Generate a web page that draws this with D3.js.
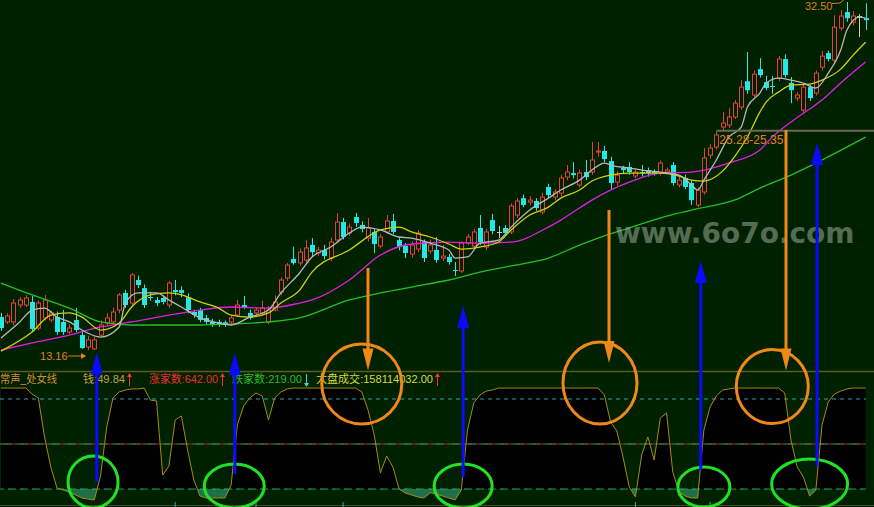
<!DOCTYPE html>
<html><head><meta charset="utf-8">
<script src="https://cdn.jsdelivr.net/npm/d3@7"></script>
<style>html,body{margin:0;padding:0;background:#002000;overflow:hidden}</style>
</head><body><svg id="c" width="874" height="507"></svg>
<script>
// ---------- DATA ----------
const openP = [14.99,14.72,14.72,15.66,15.66,15.83,14.38,14.94,14.83,14.99,14.72,14.16,14.83,13.99,13.33,13.22,13.99,14.66,14.72,15.38,
16.33,15.77,17.05,16.60,16.10,15.94,16.05,15.66,16.49,16.49,16.10,15.27,15.38,14.94,14.72,14.72,14.70,14.72,15.10,15.66,
15.22,15.22,15.22,14.72,15.38,16.38,17.16,18.22,18.00,18.16,19.00,18.55,18.72,18.27,19.27,20.27,19.66,20.55,20.11,19.38,
19.72,18.94,19.72,20.33,19.27,18.94,18.49,18.77,19.16,18.66,18.72,18.27,18.33,17.62,17.55,19.10,18.94,19.94,18.88,20.38,
19.72,19.94,19.72,20.66,21.60,21.38,21.44,20.83,22.22,21.66,21.88,22.77,22.99,22.33,23.05,23.05,24.16,24.22,23.66,22.49,
23.27,23.33,22.83,23.05,23.16,23.05,22.99,23.05,23.44,22.33,22.72,22.44,21.22,21.94,23.99,24.44,25.55,25.66,26.11,26.66,
28.10,27.33,28.77,28.05,27.83,28.27,29.33,28.00,27.16,26.49,27.77,27.44,28.88,29.66,29.27,31.05,31.94,31.38,31.72,31.60];
const highP = [15.22,15.20,15.99,16.10,16.20,16.16,15.90,16.22,15.35,15.30,15.38,14.60,15.50,14.20,13.95,13.90,14.80,15.20,15.50,16.33,
16.50,17.44,17.30,16.80,16.40,16.10,16.20,17.00,17.05,16.70,16.30,15.40,15.50,15.10,14.90,14.85,14.80,15.10,15.94,16.16,
15.40,15.55,15.90,15.60,16.20,17.20,18.00,18.90,18.80,19.27,19.38,18.90,19.00,19.40,20.77,20.50,20.20,20.77,20.30,20.49,
19.90,19.60,20.66,20.72,19.40,19.10,19.20,19.83,19.30,19.30,19.44,19.00,18.50,18.05,19.20,19.60,19.90,20.66,19.90,20.72,
20.05,20.10,21.30,21.60,21.80,21.70,21.60,21.90,22.40,22.10,22.90,23.44,23.60,23.20,23.72,24.72,24.72,24.50,23.90,23.10,
23.40,23.60,23.20,23.44,23.30,23.20,23.70,23.30,23.60,22.80,22.90,22.60,22.20,24.38,24.61,25.30,26.38,26.60,27.05,28.16,
29.72,28.70,29.38,28.40,28.38,29.50,29.60,28.33,27.50,27.90,27.90,28.70,29.77,29.80,31.77,32.05,32.50,32.00,31.83,32.43];
const lowP = [14.22,14.60,14.55,15.50,15.55,14.20,14.25,14.80,14.70,14.00,14.00,14.05,14.15,13.22,13.16,13.18,13.90,14.50,14.60,15.20,
15.50,15.60,16.60,15.50,15.90,15.60,15.70,15.50,16.20,16.10,15.20,14.95,14.70,14.60,14.45,14.45,14.45,14.60,15.00,15.45,
14.85,15.10,15.10,14.60,15.30,16.20,17.00,17.90,17.85,18.00,18.40,18.40,18.20,18.10,19.10,19.30,19.50,20.00,19.70,19.20,
18.55,18.80,19.60,19.60,18.70,18.27,18.30,18.60,18.05,18.50,18.00,18.10,17.90,17.27,17.45,19.00,18.80,19.00,18.70,19.60,
19.38,19.50,19.60,20.50,21.10,21.20,20.90,20.70,21.60,21.50,21.70,22.60,22.70,22.20,22.60,22.90,23.90,23.60,22.05,22.30,
23.00,22.90,22.70,22.80,22.80,22.85,22.85,22.95,22.30,22.20,22.10,21.22,21.10,21.80,23.80,24.30,25.35,25.50,26.00,26.50,
27.40,27.20,28.30,27.60,27.38,28.10,28.30,26.88,27.00,26.35,27.00,27.30,28.70,29.20,29.10,30.90,31.40,31.20,30.55,30.94];
const closeP = [14.38,15.05,15.77,15.94,16.05,14.33,15.77,15.94,15.22,14.16,14.16,14.38,14.27,13.27,13.72,13.72,14.55,14.94,15.27,16.22,
15.66,17.33,16.77,15.66,16.05,15.77,15.83,16.88,16.38,16.33,15.38,15.10,14.83,14.72,14.55,14.55,14.55,14.94,15.66,15.55,
14.94,15.38,15.49,15.38,15.83,17.05,17.88,18.00,18.60,18.83,18.60,18.72,18.38,19.16,20.27,19.44,19.99,20.22,19.88,19.94,
19.05,19.44,20.33,19.72,18.88,18.55,18.99,19.66,18.27,18.99,18.16,18.38,18.05,17.60,19.10,19.44,19.72,19.16,19.72,19.77,
19.72,19.66,21.16,21.44,21.22,21.49,21.05,21.66,21.77,21.94,22.72,23.05,22.88,22.99,22.77,23.72,24.22,23.77,22.44,22.88,
23.16,23.05,23.05,22.99,22.99,22.99,23.55,23.16,22.44,22.60,22.22,21.49,22.05,23.83,24.38,25.11,25.77,26.11,26.88,27.77,
27.60,28.49,28.44,27.72,27.82,29.33,28.44,27.60,27.33,27.77,27.16,28.55,29.49,29.33,31.10,31.72,31.60,31.72,31.72,31.49];

// moving averages: [candle index, value]
const ma5 = [[0,13.83],[3,14.72],[5,15.38],[7,15.49],[9,14.99],[11,14.72],[13,14.27],[16,13.88],[19,14.44],[20,15.77],[22,16.33],[25,16.33],
[27,15.94],[29,15.55],[32,14.94],[35,14.66],[37,14.55],[40,14.99],[43,15.38],[45,16.33],[48,17.44],[50,18.33],[53,18.88],[56,19.66],
[58,19.99],[61,19.83],[64,19.44],[66,19.38],[69,19.10],[72,18.72],[73,18.27],[75,18.33],[77,19.10],[80,19.27],[82,19.99],[85,20.94],
[88,21.60],[90,22.05],[93,22.60],[95,23.16],[97,23.55],[98,23.44],[101,23.27],[103,23.16],[106,23.05],[109,22.88],[111,22.33],
[112,22.05],[113,22.60],[115,23.72],[117,24.99],[119,25.55],[120,26.66],[122,27.44],[123,27.99],[125,28.27],[127,28.16],[129,27.99],
[131,27.72],[133,28.55],[135,29.83],[136,30.94],[138,31.66],[139,31.60]];
const ma10 = [[0,13.10],[5,14.16],[8,15.10],[11,15.22],[13,14.99],[16,14.27],[19,14.66],[21,15.55],[24,16.22],[27,16.33],[29,16.22],
[32,15.83],[35,15.49],[37,15.10],[40,14.99],[43,15.22],[45,15.77],[48,16.49],[50,17.49],[56,18.72],[61,19.83],[64,19.99],[66,19.72],
[69,19.44],[72,19.05],[74,18.77],[77,18.88],[80,19.16],[82,19.83],[85,20.66],[88,21.10],[90,21.60],[93,22.05],[95,22.55],[98,22.88],
[101,22.99],[106,22.99],[109,22.83],[111,22.60],[113,22.55],[116,23.10],[118,23.94],[120,25.00],[122,26.38],[123,26.94],[125,27.49],
[127,27.88],[130,27.94],[132,28.16],[135,28.77],[137,29.55],[139,30.27]];
const ma20 = [[0,13.16],[5,13.55],[11,13.99],[16,14.44],[21,14.72],[27,15.10],[32,15.38],[37,15.55],[43,15.49],[48,15.77],[50,15.94],
[56,17.05],[61,18.44],[66,19.05],[72,19.16],[77,19.10],[82,19.16],[88,19.99],[90,20.38],[93,21.05],[95,21.49],[101,22.49],[106,22.99],
[111,23.05],[117,23.55],[122,24.27],[124,24.99],[127,25.83],[130,26.55],[132,27.05],[135,28.00],[139,29.16]];
const ma60 = [[0,16.88],[5,16.22],[11,15.49],[16,14.72],[21,14.55],[27,14.55],[32,14.55],[37,14.60],[43,14.72],[48,14.94],[56,15.94],
[61,16.33],[66,16.66],[72,17.05],[77,17.49],[82,17.83],[88,18.27],[93,18.99],[96,19.38],[101,19.94],[107,20.60],[111,20.94],
[118,21.50],[122,22.16],[127,22.88],[132,23.72],[139,24.99]];

// lower indicator (one value per candle)
const osc = [87.3,87.3,87.3,87.3,87.3,83.3,80.7,54.7,34.7,20.7,19.3,18,16,14,13.3,12.7,28.7,61.3,80.7,84.7,
86,86.7,86.7,87.3,79.3,78.7,29.3,35.3,66,68.7,46,26,15.3,14,14,14,14,22.7,62.7,75.3,
80.7,84,82,66,80.7,84.7,86.7,87.3,87.3,87.3,87.3,87.3,87.3,87.3,87.3,87.3,87.3,87.3,84.7,72.7,
56,30.7,42,34.7,20,17.3,16,14.7,14,17.5,16.7,15.3,14,12.7,19.3,59.3,77.3,82.7,85.3,86,
87.3,87.3,87.3,87.3,87.3,87.3,87.3,87.3,87.3,87.3,87.3,87.3,87.3,87.3,87.3,87.3,87.3,82.7,64.7,58.7,
41.3,21.3,14.7,42.7,54.7,39.3,67.3,70.7,31.3,18,15.3,14,14,59.3,74.7,82,86,86.7,87.3,87.3,
87.3,87.3,87.3,87.3,87.3,87.3,84,52.7,34.7,28,15.3,19.3,62.7,78,83.3,85.3,86.7,87.3,87.3,87.3];
const oscLevels = [80, 50, 20];
const dateTicks = [28, 41, 55, 102, 114];

const panelLabels = [
  {t:"常声_处女线", x:0, c:"#d09030", w:57},
  {t:"钱:49.84", x:83, c:"#c0a040", w:42, arrow:"up", ac:"#ff3030"},
  {t:"涨家数:642.00", x:149, c:"#e83030", w:69, arrow:"up", ac:"#ff3030"},
  {t:"跌家数:219.00", x:232, c:"#30b830", w:70, arrow:"down", ac:"#20e0e0"},
  {t:"大盘成交:158114032.00", x:316, c:"#d8d840", w:117, arrow:"up", ac:"#ff3030"}
];
const lowLabel = "13.16", highLabel = "32.50", gapLabel = "25.28-25.35", gapLevel = 25.35, gapStart = 115;
const watermark = "www.6o7o.com";

// annotations: index position, tail/tip in price or indicator units
const blueArrows = [{i:15.4, from:24.7, to:13.04},{i:37.6, from:30, to:13.0},{i:74.3, from:28, to:15.6},
                    {i:112.5, from:32.7, to:18.1},{i:131.2, from:35.3, to:24.66}];
const orangeArrows = [{i:59, from:17.72, to:99},{i:97.75, from:20.94, to:104},{i:126.2, from:25.38, to:99}];
const orangeRings = [{i:58, v:90, rx:40, ry:40},{i:96.3, v:90.7, rx:37, ry:41},{i:124, v:88.3, rx:36, ry:37}];
const greenRings = [{i:14.8, v:24.7, rx:25, ry:26},{i:37.5, v:22, rx:30, ry:22},{i:74.3, v:22, rx:29, ry:22},
                    {i:113, v:21.3, rx:26, ry:20},{i:130, v:23.3, rx:38, ry:25}];

// ---------- DRAW ----------
const svg = d3.select("#c");
const W = 874, H = 507;
const x = d3.scaleLinear().domain([0, 139]).range([1, 865.6]);
const y = d3.scaleLinear().domain([13.16, 32.50]).range([350, 2]);
const oy = d3.scaleLinear().domain([0, 100]).range([519, 369]);
const BG = "#002100";
const RED = "#e8403c", CYAN = "#22e8e8";

svg.append("rect").attr("width", W).attr("height", H).attr("fill", BG);
const defs = svg.append("defs");
defs.append("clipPath").attr("id","pc").append("rect").attr("x",0).attr("y",0).attr("width",W).attr("height",370);
defs.append("clipPath").attr("id","above").append("rect").attr("x",0).attr("y",369).attr("width",867).attr("height",oy(20)-369);
defs.append("clipPath").attr("id","below").append("rect").attr("x",0).attr("y",oy(20)).attr("width",867).attr("height",40);

const price = svg.append("g").attr("clip-path","url(#pc)");

// candles
const data = openP.map((o,i)=>({i, o, h:highP[i], l:lowP[i], c:closeP[i]}));
const cg = price.append("g");
data.forEach(d=>{
  const cx = Math.round(x(d.i)) + 0.5;
  const col = d.c > d.o ? RED : (d.c < d.o ? CYAN : "#c8c8c8");
  const top = y(Math.max(d.o,d.c)), bot = y(Math.min(d.o,d.c));
  const bw = 4;
  if (d.c > d.o) {
    cg.append("line").attr("x1",cx).attr("x2",cx).attr("y1",y(d.h)).attr("y2",top).attr("stroke",col);
    cg.append("line").attr("x1",cx).attr("x2",cx).attr("y1",bot).attr("y2",y(d.l)).attr("stroke",col);
    cg.append("rect").attr("x",cx-bw/2).attr("y",top).attr("width",bw).attr("height",Math.max(1,bot-top))
      .attr("fill",BG).attr("stroke",col).attr("stroke-width",1);
  } else {
    cg.append("line").attr("x1",cx).attr("x2",cx).attr("y1",y(d.h)).attr("y2",y(d.l)).attr("stroke",col);
    if (bot - top < 1.2) {
      cg.append("line").attr("x1",cx-bw/2-0.5).attr("x2",cx+bw/2+0.5).attr("y1",Math.round(top)+0.5).attr("y2",Math.round(top)+0.5).attr("stroke",col);
    } else {
      cg.append("rect").attr("x",cx-bw/2-0.5).attr("y",top).attr("width",bw+1).attr("height",bot-top).attr("fill",col);
    }
  }
});

// moving average lines
const mline = d3.line().x(d=>x(d[0])).y(d=>y(d[1])).curve(d3.curveMonotoneX);
[[ma60,"#22c022"],[ma20,"#e020e0"],[ma10,"#d0d010"],[ma5,"#b8b8b8"]].forEach(([arr,col])=>{
  price.append("path").attr("d",mline(arr)).attr("fill","none").attr("stroke",col).attr("stroke-width",1.3);
});

// gap level line & labels
svg.append("line").attr("x1",x(gapStart)).attr("x2",W).attr("y1",y(gapLevel)).attr("y2",y(gapLevel))
  .attr("stroke","#6a6a58").attr("stroke-width",2);
svg.append("text").attr("x",x(gapStart)+3).attr("y",y(gapLevel)+13).text(gapLabel)
  .attr("fill","#e08020").attr("font-family","Liberation Sans, Arial, sans-serif").attr("font-size",12);

// low label
const iMin = d3.minIndex(lowP), iMax = d3.maxIndex(highP);
svg.append("text").attr("x",x(iMin)-48).attr("y",y(lowP[iMin])+10).text(lowLabel)
  .attr("fill","#e08020").attr("font-family","Liberation Sans, Arial, sans-serif").attr("font-size",11);
svg.append("line").attr("x1",x(iMin)-20).attr("x2",x(iMin)-3).attr("y1",y(lowP[iMin])+6).attr("y2",y(lowP[iMin])+6).attr("stroke","#e08020");
svg.append("path").attr("d",`M${x(iMin)-2},${y(lowP[iMin])+6} l-5,-3 l0,6 z`).attr("fill","#e08020");
// high label
svg.append("text").attr("x",x(iMax)-42).attr("y",y(highP[iMax])+8).text(highLabel)
  .attr("fill","#d88020").attr("font-family","Liberation Sans, Arial, sans-serif").attr("font-size",11);
svg.append("path").attr("d",`M${x(iMax)-15},${y(highP[iMax])+1.5} L${x(iMax)-7},${y(highP[iMax])+1} L${x(iMax)-2},${y(highP[iMax])-3}`)
  .attr("fill","none").attr("stroke","#d88020");

// watermark
svg.append("text").attr("x",615).attr("y",243).text(watermark)
  .attr("font-family","DejaVu Sans, sans-serif").attr("font-weight","bold").attr("font-size",28)
  .attr("fill","#a8b4a8").attr("opacity",0.5);

// ---------- lower panel ----------
svg.append("line").attr("x1",0).attr("x2",W).attr("y1",371.5).attr("y2",371.5).attr("stroke","#5c5c14").attr("stroke-width",1.5);

const area = d3.area().x((d,i)=>x(i)).y0(oy(20)).y1(d=>oy(d));
svg.append("path").attr("d",area(osc)).attr("fill","#000").attr("clip-path","url(#above)");
svg.append("path").attr("d",area(osc)).attr("fill","#1f7048").attr("clip-path","url(#below)");

// dashed levels
const dl = (yy, col, dash, off) => svg.append("line").attr("x1",0).attr("x2",866).attr("y1",yy).attr("y2",yy)
  .attr("stroke",col).attr("stroke-width",1.2).attr("stroke-dasharray",dash).attr("stroke-dashoffset",off);
dl(oy(oscLevels[0]), "#2aa8a8", "4,4", 0);
dl(oy(oscLevels[1]), "#20a020", "4,12", 0);
dl(oy(oscLevels[1]), "#c02020", "4,12", 4);
dl(oy(oscLevels[1]), "#30a8a8", "4,12", 8);
dl(oy(oscLevels[1]), "#b0a020", "4,12", 12);
dl(oy(oscLevels[2]), "#20a020", "4,8", 0);
dl(oy(oscLevels[2]), "#2aa8a8", "4,8", 4);

svg.append("path").attr("d",d3.line().x((d,i)=>x(i)).y(d=>oy(d))(osc)).attr("fill","none").attr("stroke","#a88a10").attr("stroke-width",1);

svg.append("line").attr("x1",0).attr("x2",W).attr("y1",505.5).attr("y2",505.5).attr("stroke","#4a4a10").attr("stroke-width",1);
dateTicks.forEach(t=>svg.append("line").attr("x1",x(t)).attr("x2",x(t)).attr("y1",502).attr("y2",507).attr("stroke","#20b0d0"));

// panel labels
panelLabels.forEach(l=>{
  svg.append("text").attr("x",l.x).attr("y",383).text(l.t).attr("fill",l.c)
    .attr("font-family","Liberation Sans, 'Noto Sans CJK SC', sans-serif").attr("font-size",11)
    .attr("textLength",l.w).attr("lengthAdjust","spacingAndGlyphs");
  if (l.arrow) {
    const ax = l.x + l.w + 4.5;
    svg.append("line").attr("x1",ax).attr("x2",ax).attr("y1",374).attr("y2",386).attr("stroke",l.ac);
    if (l.arrow==="up") svg.append("path").attr("d",`M${ax},373 l-2.5,4 l5,0 z`).attr("fill",l.ac);
    else svg.append("path").attr("d",`M${ax},387 l-2.5,-4 l5,0 z`).attr("fill",l.ac);
  }
});

// ---------- annotations ----------
greenRings.forEach(r=>svg.append("ellipse").attr("cx",x(r.i)).attr("cy",oy(r.v)).attr("rx",r.rx).attr("ry",r.ry)
  .attr("fill","none").attr("stroke","#22e022").attr("stroke-width",3));
orangeRings.forEach(r=>svg.append("ellipse").attr("cx",x(r.i)).attr("cy",oy(r.v)).attr("rx",r.rx).attr("ry",r.ry)
  .attr("fill","none").attr("stroke","#f08818").attr("stroke-width",3));
blueArrows.forEach(a=>{
  const ax = x(a.i), y1 = oy(a.from), y2 = y(a.to);
  svg.append("line").attr("x1",ax).attr("x2",ax).attr("y1",y1).attr("y2",y2+18).attr("stroke","#0a0aff").attr("stroke-width",3);
  svg.append("path").attr("d",`M${ax},${y2} L${ax-6},${y2+22} L${ax+6},${y2+22} Z`).attr("fill","#0a0aff");
});
orangeArrows.forEach(a=>{
  const ax = x(a.i), y1 = y(a.from), y2 = oy(a.to);
  svg.append("line").attr("x1",ax).attr("x2",ax).attr("y1",y1).attr("y2",y2-18).attr("stroke","#f08818").attr("stroke-width",3);
  svg.append("path").attr("d",`M${ax},${y2} L${ax-5.5},${y2-22} L${ax+5.5},${y2-22} Z`).attr("fill","#f08818");
});
</script></body></html>
